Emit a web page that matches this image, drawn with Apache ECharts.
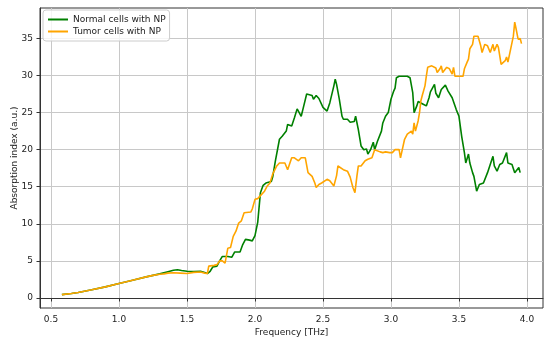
<!DOCTYPE html>
<html>
<head>
<meta charset="utf-8">
<script src="https://cdn.jsdelivr.net/npm/echarts@6/dist/echarts.min.js"></script>
<style>
html,body{margin:0;padding:0;background:#fff;}
#chart{width:550px;height:342px;}
</style>
</head>
<body>
<div id="chart"></div>
<script>
// ---- Data ----
var seriesNames = ["Normal cells with NP", "Tumor cells with NP"];

var freqNormal = [0.58,0.65,0.7,0.8,0.9,1.0,1.1,1.2,1.25,1.3,1.33,1.36,1.4,1.43,1.46,1.5,1.55,1.6,1.63,1.65,
  1.67,1.69,1.72,1.74,1.76,1.8,1.83,1.85,1.89,1.91,1.93,1.96,1.98,2.0,2.02,2.04,2.06,2.08,2.1,2.12,
  2.13,2.15,2.18,2.2,2.23,2.24,2.27,2.29,2.31,2.32,2.34,2.36,2.38,2.42,2.43,2.45,2.47,2.5,2.53,2.55,
  2.58,2.59,2.6,2.62,2.64,2.65,2.68,2.7,2.73,2.74,2.76,2.78,2.8,2.82,2.83,2.85,2.87,2.88,2.9,2.93,
  2.94,2.96,2.98,3.0,3.02,3.03,3.04,3.06,3.1,3.12,3.14,3.16,3.17,3.19,3.2,3.23,3.26,3.28,3.29,3.32,
  3.33,3.35,3.37,3.4,3.42,3.45,3.46,3.48,3.5,3.52,3.54,3.55,3.57,3.58,3.6,3.61,3.63,3.65,3.68,3.71,
  3.73,3.75,3.76,3.78,3.8,3.82,3.85,3.86,3.89,3.9,3.91,3.94,3.95];
var absNormal = [0.45,0.6,0.75,1.1,1.5,1.95,2.4,2.85,3.05,3.25,3.4,3.55,3.75,3.8,3.7,3.6,3.55,3.6,3.45,3.3,
  3.6,4.2,4.3,5.0,5.6,5.6,5.5,6.2,6.2,7.2,7.9,7.8,7.7,8.4,10.2,14.2,15.2,15.5,15.6,15.7,
  16.3,18.5,21.4,21.8,22.5,23.4,23.2,24.3,25.5,25.3,24.5,26.0,27.5,27.3,26.8,27.3,26.9,25.7,25.2,26.3,
  28.6,29.5,28.8,26.8,24.5,24.1,24.1,23.7,23.8,24.5,22.7,20.5,20.0,20.1,19.4,20.0,21.0,20.0,21.1,22.5,
  23.6,24.5,25.0,26.8,27.9,28.3,29.7,29.9,29.9,29.9,29.7,27.7,25.0,25.9,26.5,26.2,25.9,27.0,27.8,28.8,
  27.6,27.0,28.1,28.7,27.9,27.0,27.1,25.4,24.5,21.8,19.6,18.2,19.4,18.2,16.9,16.4,14.4,15.3,15.5,16.9,
  18.0,19.1,17.8,17.1,18.0,18.2,19.6,18.2,18.0,17.8,16.9,17.6,16.9];

var freqTumor = [0.58,0.65,0.7,0.8,0.9,1.0,1.1,1.2,1.25,1.3,1.33,1.36,1.4,1.45,1.5,1.55,1.6,1.63,1.65,
  1.66,1.7,1.72,1.74,1.76,1.78,1.8,1.82,1.84,1.86,1.88,1.9,1.92,1.97,1.98,2.0,2.02,2.04,2.07,2.09,
  2.11,2.13,2.16,2.18,2.22,2.24,2.27,2.29,2.32,2.34,2.37,2.39,2.42,2.44,2.45,2.47,2.49,2.53,2.55,2.58,
  2.6,2.61,2.65,2.68,2.7,2.72,2.735,2.75,2.76,2.78,2.81,2.83,2.86,2.87,2.88,2.92,2.94,2.96,2.99,3.01,
  3.03,3.06,3.07,3.08,3.1,3.12,3.15,3.16,3.17,3.18,3.2,3.21,3.22,3.23,3.25,3.26,3.27,3.3,3.33,3.34,
  3.36,3.37,3.38,3.41,3.43,3.45,3.46,3.47,3.53,3.54,3.56,3.57,3.58,3.6,3.61,3.62,3.64,3.65,3.66,3.67,
  3.69,3.71,3.73,3.75,3.76,3.78,3.79,3.81,3.84,3.85,3.86,3.87,3.9,3.91,3.92,3.935,3.95,3.96];
var absTumor = [0.45,0.6,0.75,1.1,1.5,1.95,2.4,2.85,3.05,3.2,3.25,3.35,3.4,3.35,3.3,3.45,3.5,3.35,3.3,
  4.3,4.4,4.5,5.0,5.0,4.7,6.7,6.8,8.3,9.0,10.1,10.4,11.5,11.6,12.0,13.3,13.4,13.8,14.4,15.1,
  15.5,16.7,17.8,18.2,18.2,17.3,18.9,18.9,18.5,18.9,18.9,16.9,16.4,15.5,14.9,15.3,15.5,16.0,15.8,15.1,
  16.5,17.8,17.3,17.1,16.3,14.9,14.2,16.5,17.8,17.8,18.5,18.7,18.9,19.1,20.0,19.7,19.6,19.7,19.6,19.6,
  20.0,20.0,18.9,18.9,21.4,22.1,22.5,22.1,23.6,22.5,23.9,25.0,26.6,27.3,28.6,29.9,31.1,31.3,31.0,30.4,
  30.9,31.3,30.4,31.1,30.9,30.2,31.1,29.9,29.9,30.9,31.8,32.2,33.6,34.2,35.3,35.5,35.3,35.2,34.0,33.1,
  34.2,34.0,33.1,34.2,33.3,34.2,33.8,31.5,32.0,32.5,31.8,32.0,35.3,37.2,36.3,34.9,35.0,34.3];

var xTicks = [0.5,1.0,1.5,2.0,2.5,3.0,3.5,4.0];
var yTicks = [0,5,10,15,20,25,30,35];
var xTitle = "Frequency [THz]";
var yTitle = "Absorption index (a.u.)";

function pairs(xs, ys){ var out=[]; for (var i=0;i<xs.length;i++) out.push([xs[i], ys[i]]); return out; }

var FONT = "DejaVu Sans";
var FS = 9;
var chart = echarts.init(document.getElementById('chart'), null, {renderer:'canvas'});
chart.setOption({
  animation:false,
  backgroundColor:'#fff',
  textStyle:{fontFamily:FONT},
  grid:{left:40,right:7,top:8,bottom:34,containLabel:false,outerBoundsMode:'none',
    show:true,borderColor:'#333',borderWidth:1,backgroundColor:'transparent'},
  legend:{
    orient:'vertical', left:43, top:10,
    padding:[5,4,5,5], itemGap:3,
    icon:'rect', itemWidth:20, itemHeight:2,
    backgroundColor:'rgba(255,255,255,0.8)', borderColor:'#cccccc', borderWidth:1, borderRadius:3,
    textStyle:{fontFamily:FONT,fontSize:FS,color:'#222'},
    data:seriesNames
  },
  xAxis:{
    type:'value', min:0.419, max:4.118,
    name:xTitle, nameLocation:'middle', nameGap:20, nameMoveOverlap:false,
    nameTextStyle:{fontFamily:FONT,fontSize:FS,color:'#222'},
    axisLine:{show:true,lineStyle:{color:'#333',width:1}},
    axisTick:{show:true,inside:false,length:3.5,customValues:xTicks,lineStyle:{color:'#333'}},
    axisLabel:{customValues:xTicks,margin:7,fontFamily:FONT,fontSize:FS,color:'#222',
      formatter:function(v){return v.toFixed(1);}},
    splitLine:{show:true,lineStyle:{color:'#c8c8c8',width:1}}
  },
  yAxis:{
    type:'value', min:-1.35, max:39.1,
    name:yTitle, nameLocation:'middle', nameGap:21, nameRotate:90, nameMoveOverlap:false,
    nameTextStyle:{fontFamily:FONT,fontSize:FS,color:'#222'},
    axisLine:{show:true,lineStyle:{color:'#333',width:1}},
    axisTick:{show:true,inside:false,length:3.5,customValues:yTicks,lineStyle:{color:'#333'}},
    axisLabel:{customValues:yTicks,margin:7,fontFamily:FONT,fontSize:FS,color:'#222'},
    splitLine:{show:true,lineStyle:{color:'#c8c8c8',width:1}}
  },
  series:[
    {name:seriesNames[0],type:'line',symbol:'none',showSymbol:false,data:pairs(freqNormal,absNormal),
     lineStyle:{color:'#008000',width:1.6},itemStyle:{color:'#008000'}},
    {name:seriesNames[1],type:'line',symbol:'none',showSymbol:false,data:pairs(freqTumor,absTumor),
     lineStyle:{color:'#FFA500',width:1.6},itemStyle:{color:'#FFA500'}}
  ]
});
</script>
</body>
</html>
